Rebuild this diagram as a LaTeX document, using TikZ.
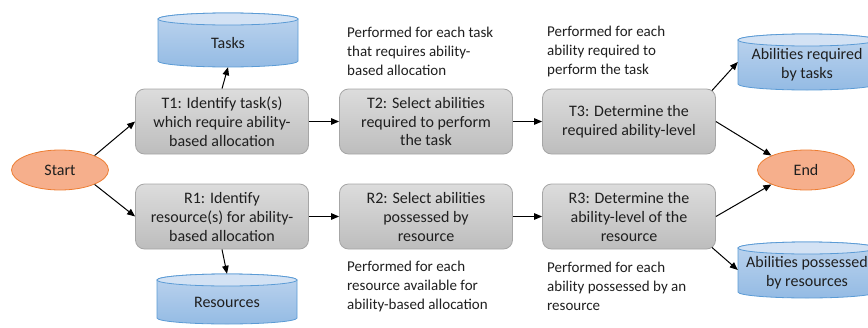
\documentclass[tikz,border=0pt]{standalone}
\usepackage{fontspec}
\setmainfont{Carlito}
\usetikzlibrary{shapes.geometric,arrows.meta,calc}
\definecolor{boxtop}{HTML}{DCDCDC}
\definecolor{boxbot}{HTML}{BDBDBD}
\definecolor{boxline}{HTML}{A6A6A6}
\definecolor{cyltop}{HTML}{BDD4EE}
\definecolor{cylbot}{HTML}{94BBE4}
\definecolor{cylcap}{HTML}{D3E2F4}
\definecolor{cylline}{HTML}{5B9BD5}
\definecolor{termfill}{HTML}{F6AF8C}
\definecolor{termline}{HTML}{ED7D31}
\definecolor{txt}{HTML}{1F1F1F}
\newcommand\dbcyl[6]{%
  \pgfmathsetmacro\cyL{#2-#4/2}%
  \pgfmathsetmacro\cyR{#2+#4/2}%
  \pgfmathsetmacro\cyT{#3-#5/2+6}%
  \pgfmathsetmacro\cyB{#3+#5/2-6}%
  \pgfmathsetmacro\cyH{#4/2}%
  \path[draw=cylline, line width=0.8pt, top color=cyltop, bottom color=cylbot]
    (\cyL,\cyT) -- (\cyL,\cyB) arc[start angle=180,end angle=0,x radius=\cyH,y radius=6]
    -- (\cyR,\cyT) arc[start angle=0,end angle=-180,x radius=\cyH,y radius=6] -- cycle;
  \path[draw=cylline, line width=0.8pt, fill=cylcap] (#2,\cyT) ellipse [x radius=\cyH, y radius=6];
  \node[inner sep=0pt, minimum width=#4pt, minimum height=#5pt] (#1) at (#2,#3) {};
  \node[cyltext] (#1-label) at (#2,#3+3) {#6};
}
\begin{document}
\begin{tikzpicture}[x=1pt,y=-1pt,
  stepbox/.style={draw=boxline, line width=0.8pt, rounded corners=9pt, top color=boxtop, bottom color=boxbot,
    minimum width=173pt, minimum height=65pt, align=center, text=txt,
    font=\fontsize{16}{19}\selectfont, inner sep=0pt},
  term/.style={ellipse, draw=termline, fill=termfill, line width=0.8pt, minimum width=97pt,
    minimum height=40pt, inner sep=0pt, text=txt, font=\fontsize{16}{19}\selectfont},
  note/.style={anchor=west, align=left, inner sep=0pt, text=txt, font=\fontsize{15}{19}\selectfont},
  cyltext/.style={align=center, inner sep=0pt, text=txt, font=\fontsize{16}{19}\selectfont},
  arr/.style={-{Triangle[length=8pt,width=6.5pt]}, line width=1pt},
]
\useasboundingbox (0,0) rectangle (868,327);

% cylinders
\dbcyl{tasks}{228}{40}{140}{54}{Tasks}
\dbcyl{resources}{227}{299}{140}{50}{Resources}
\dbcyl{areq}{807}{62}{138}{56}{Abilities required\\by tasks}
\dbcyl{apos}{807}{270}{138}{56}{Abilities possessed\\by resources}

% terminals
\node[term] (start) at (60,170) {Start};
\node[term] (end) at (806,170) {End};

% steps
\node[stepbox] (t1) at (222,121.5) {T1: Identify task(s)\\which require ability-\\based allocation};
\node[stepbox] (t2) at (426,121.5) {T2: Select abilities\\required to perform\\the task};
\node[stepbox] (t3) at (629,121.5) {T3: Determine the\\required ability-level};
\node[stepbox] (r1) at (222,216.5) {R1: Identify\\resource(s) for ability-\\based allocation};
\node[stepbox] (r2) at (426,216.5) {R2: Select abilities\\possessed by\\resource};
\node[stepbox] (r3) at (629,216.5) {R3: Determine the\\ability-level of the\\resource};

% notes
\node[note] (n1) at (347,51) {Performed for each task\\that requires ability-\\based allocation};
\node[note] (n2) at (547,51) {Performed for each\\ability required to\\perform the task};
\node[note] (n3) at (347,286) {Performed for each\\resource available for\\ability-based allocation};
\node[note] (n4) at (547,286) {Performed for each\\ability possessed by an\\resource};

% connectors
\draw[arr] (start.north east) -- (t1.west);
\draw[arr] (start.south east) -- (r1.west);
\draw[arr] (t1.north) -- (tasks.south);
\draw[arr] (r1.south) -- (resources.north);
\draw[arr] (t1) -- (t2);
\draw[arr] (t2) -- (t3);
\draw[arr] (r1) -- (r2);
\draw[arr] (r2) -- (r3);
\draw[arr] ($(t3.north east)+(-4,2)$) -- (areq.west);
\draw[arr] (t3.east) -- (end.north west);
\draw[arr] (r3.east) -- (end.south west);
\draw[arr] ($(r3.south east)+(-4,-2)$) -- (apos.west);
\end{tikzpicture}
\end{document}
